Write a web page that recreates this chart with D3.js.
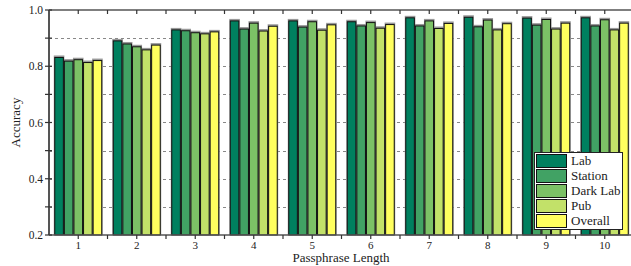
<!DOCTYPE html>
<html>
<head>
<meta charset="utf-8">
<script src="https://cdn.jsdelivr.net/npm/d3@7"></script>
<style>
  body { margin: 0; background: #fff; }
</style>
</head>
<body>
<svg id="chart"></svg>
<script>
// passphrase lengths on the x axis
const lengths = ["1", "2", "3", "4", "5", "6", "7", "8", "9", "10"]
const series = ["Lab", "Station", "Dark Lab", "Pub", "Overall"]
const colors = ["#00805f", "#41a264", "#7cc166", "#c2e169", "#ffff5f"]

const lab     = [0.833, 0.892, 0.931, 0.963, 0.963, 0.960, 0.974, 0.976, 0.973, 0.974]
const station = [0.820, 0.881, 0.928, 0.934, 0.941, 0.945, 0.945, 0.942, 0.948, 0.945]
const darkLab = [0.825, 0.871, 0.921, 0.955, 0.960, 0.957, 0.963, 0.966, 0.968, 0.967]
const pub     = [0.815, 0.860, 0.917, 0.927, 0.930, 0.937, 0.936, 0.931, 0.934, 0.931]
const overall = [0.822, 0.877, 0.924, 0.944, 0.949, 0.950, 0.954, 0.953, 0.955, 0.955]

const yTicks = [0.2, 0.4, 0.6, 0.8, 1.0]
const yMinor = [0.3, 0.5, 0.7, 0.9]

const width = 631
const height = 266
const margin = ({ top: 10, right: -3, left: 49, bottom: 31 })
const serif = '"Liberation Serif", "Times New Roman", Times, serif'

const values = [lab, station, darkLab, pub, overall]
const data = lengths.map((len, i) => ({ len: len, vals: series.map((s, j) => ({ key: s, v: values[j][i] })) }))

const svg = d3.select('#chart')
  .attr('width', width)
  .attr('height', height)
  .attr('font-family', serif)

const x = d3.scaleBand()
  .domain(lengths)
  .range([margin.left, width - margin.right])

const xInner = d3.scaleBand()
  .domain(series)
  .range([0, x.bandwidth() * 0.82])

const y = d3.scaleLinear()
  .domain([0.2, 1.0])
  .range([height - margin.bottom, margin.top])

// dashed grid
svg.append('g')
  .selectAll('line')
  .data(d3.range(0.3, 0.95, 0.1))
  .join('line')
    .attr('x1', margin.left)
    .attr('x2', width - margin.right)
    .attr('y1', d => Math.round(y(d)) + 0.5)
    .attr('y2', d => Math.round(y(d)) + 0.5)
    .attr('stroke', '#888')
    .attr('stroke-dasharray', '3,3')

// bars
const off = (x.bandwidth() - xInner.range()[1]) / 2
const groups = svg.append('g')
  .selectAll('g')
  .data(data)
  .join('g')
    .attr('transform', d => `translate(${x(d.len) + off},0)`)

groups.selectAll('rect.shadow')
  .data(d => d.vals)
  .join('rect')
    .attr('class', 'shadow')
    .attr('x', d => xInner(d.key) - 0.5)
    .attr('y', d => y(d.v) - 1.5)
    .attr('width', xInner.bandwidth() + 1)
    .attr('height', d => y(0.2) - y(d.v) + 1.5)
    .attr('fill', '#999')

groups.selectAll('rect.bar')
  .data(d => d.vals)
  .join('rect')
    .attr('class', 'bar')
    .attr('x', d => xInner(d.key) + 0.5)
    .attr('y', d => y(d.v) + 0.5)
    .attr('width', xInner.bandwidth() - 1)
    .attr('height', d => y(0.2) - y(d.v) - 0.5)
    .attr('fill', (d, i) => colors[i])
    .attr('stroke', '#111')
    .attr('stroke-width', 1)

// frame + axes
const axisColor = '#555'
const xTickPos = lengths.map(l => x(l) + x.bandwidth() / 2)
const xMinorPos = lengths.map(l => x(l)).slice(1)

svg.append('line')
  .attr('x1', margin.left).attr('x2', width)
  .attr('y1', margin.top).attr('y2', margin.top)
  .attr('stroke', axisColor).attr('stroke-width', 1.5)
svg.append('line')
  .attr('x1', margin.left).attr('x2', width)
  .attr('y1', y(0.2)).attr('y2', y(0.2))
  .attr('stroke', axisColor).attr('stroke-width', 1.5)
svg.append('line')
  .attr('x1', margin.left).attr('x2', margin.left)
  .attr('y1', margin.top).attr('y2', y(0.2))
  .attr('stroke', axisColor).attr('stroke-width', 2)

// top ticks, pointing in
svg.append('g')
  .selectAll('line')
  .data(xTickPos.concat(xMinorPos))
  .join('line')
    .attr('x1', d => d).attr('x2', d => d)
    .attr('y1', margin.top).attr('y2', margin.top + 4)
    .attr('stroke', '#333').attr('stroke-width', 1.2)

// bottom ticks, pointing out
svg.append('g')
  .selectAll('line')
  .data(xTickPos.concat(xMinorPos))
  .join('line')
    .attr('x1', d => d).attr('x2', d => d)
    .attr('y1', y(0.2)).attr('y2', y(0.2) + 4)
    .attr('stroke', '#333').attr('stroke-width', 1.2)

svg.append('g')
  .selectAll('text')
  .data(lengths)
  .join('text')
    .attr('x', d => x(d) + x.bandwidth() / 2)
    .attr('y', y(0.2) + 14)
    .attr('text-anchor', 'middle')
    .attr('font-size', 11)
    .attr('fill', '#222')
    .text(d => d)

// left ticks
svg.append('g')
  .selectAll('line')
  .data(yTicks.concat(yMinor))
  .join('line')
    .attr('x1', margin.left - 4).attr('x2', margin.left + 3)
    .attr('y1', d => y(d)).attr('y2', d => y(d))
    .attr('stroke', '#333').attr('stroke-width', 1.2)

svg.append('g')
  .selectAll('text')
  .data(yTicks)
  .join('text')
    .attr('x', margin.left - 6)
    .attr('y', d => y(d) + 4)
    .attr('text-anchor', 'end')
    .attr('font-size', 11.5)
    .attr('fill', '#222')
    .text(d => d.toFixed(1))

// axis titles
svg.append('text')
  .attr('transform', `translate(20,${(margin.top + y(0.2)) / 2}) rotate(-90)`)
  .attr('text-anchor', 'middle')
  .attr('font-size', 13)
  .attr('fill', '#222')
  .text('Accuracy')

svg.append('text')
  .attr('x', 341)
  .attr('y', 262)
  .attr('text-anchor', 'middle')
  .attr('font-size', 13)
  .attr('fill', '#222')
  .text('Passphrase Length')

// legend
const legend = svg.append('g').attr('transform', 'translate(534,152)')
legend.append('rect')
  .attr('x', 0.5).attr('y', 0.5)
  .attr('width', 88).attr('height', 77)
  .attr('fill', '#fff')
  .attr('stroke', '#222')
  .attr('stroke-width', 1)

const rows = legend.selectAll('g')
  .data(series)
  .join('g')
    .attr('transform', (d, i) => `translate(2,${2 + i * 15})`)

rows.append('rect')
  .attr('x', 0.5).attr('y', 0.5)
  .attr('width', 30).attr('height', 13)
  .attr('fill', (d, i) => colors[i])
  .attr('stroke', '#111')

rows.append('text')
  .attr('x', 35)
  .attr('y', 11)
  .attr('font-size', 13)
  .attr('fill', '#222')
  .text(d => d)
</script>
</body>
</html>
